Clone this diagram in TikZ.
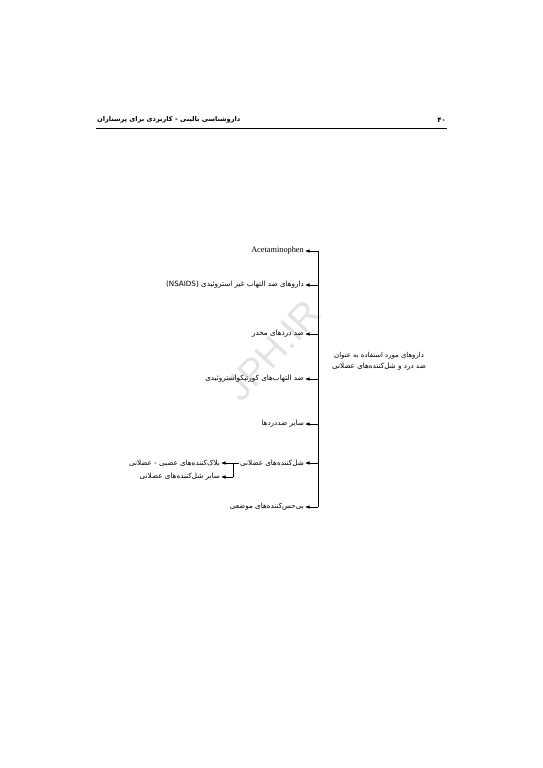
\documentclass[tikz,border=0pt]{standalone}
\usepackage{fontspec}
\setmainfont{Liberation Serif}
\newfontfamily\farsi[Script=Arabic]{DejaVu Sans}
\newfontfamily\marksans{Liberation Sans}
\TeXXeTstate=1
\usetikzlibrary{arrows.meta}
\newcommand{\fa}[1]{\farsi\beginR #1\endR}
\begin{document}
\begin{tikzpicture}
  [x=1pt,y=-1pt,every node/.style={inner sep=1pt,font=\fontsize{7.2}{9}\selectfont},
   arr/.style={-{Latex[length=4.5pt,width=3.5pt]},line width=.6pt},
   item/.style={anchor=east}]
  \useasboundingbox[fill=white] (0,0) rectangle (543,768);
  % watermark
  \node[rotate=47,text=gray!22,font=\marksans\fontsize{38}{38}\selectfont] (mark) at (273,351) {JPH.IR};
  % header
  \node[anchor=west] (head) at (96,120) {\fontsize{6.6}{8}\selectfont\bfseries\fa{داروشناسی بالینی - کاربردی برای پرستاران}};
  \node[anchor=east] (page) at (447,120) {\fontsize{7}{8}\selectfont\bfseries\fa{۴۰}};
  \coordinate (hl) at (96,128);
  \coordinate (hr) at (447,128);
  \draw[line width=.8pt] (hl) -- (hr);
  % root
  \node[anchor=west,align=center] (root) at (331,361) {\fontsize{6.9}{9}\selectfont\fa{داروهای مورد استفاده به عنوان}\\[2pt]\fa{ضد درد و شل‌کننده‌های عضلانی}};
  % items
  \node[item] (n1) at (305,251) {\fontsize{8.3}{9}\selectfont Acetaminophen};
  \node[item] (n2) at (305,285) {\farsi\beginR داروهای ضد التهاب غیر استروئیدی \beginL(NSAIDS)\endL\endR};
  \node[item] (n3) at (305,334) {\fa{ضد دردهای مخدر}};
  \node[item] (n4) at (305,379) {\fa{ضد التهاب‌های کورتیکواستروئیدی}};
  \node[item] (n5) at (305,424) {\fa{سایر ضددردها}};
  \node[item] (n6) at (305,463) {\fa{شل‌کننده‌های عضلانی}};
  \node[item] (n7) at (305,507) {\fa{بی‌حس‌کننده‌های موضعی}};
  \node[item] (m1) at (221,463) {\fa{بلاک‌کننده‌های عصبی - عضلانی}};
  \node[item] (m2) at (221,477) {\fa{سایر شل‌کننده‌های عضلانی}};
  % trunk
  \foreach \n/\y in {1/251,2/285,3/334,4/379,5/424,6/463,7/507}
    \coordinate (t\n) at (318,\y);
  \draw[line width=.6pt] (t1) -- (t7);
  \foreach \n in {1,...,7}
    \draw[arr] (t\n) -- (n\n);
  % branch
  \coordinate (b1) at (233,463);
  \coordinate (b2) at (233,477);
  \draw[line width=.6pt] (n6.west) -- (b1) -- (b2);
  \draw[arr] (b1) -- (m1);
  \draw[arr] (b2) -- (m2);
\end{tikzpicture}
\end{document}
